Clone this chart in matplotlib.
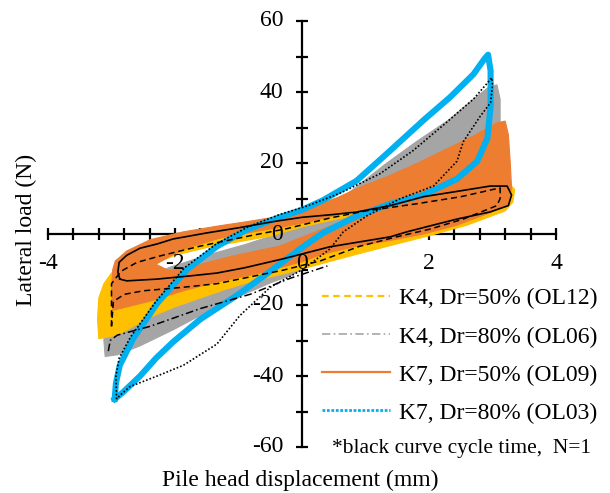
import numpy as np
import matplotlib
matplotlib.use('Agg')
import matplotlib.pyplot as plt
from matplotlib.path import Path
from matplotlib.patches import PathPatch
from matplotlib.lines import Line2D

plt.rcParams['font.family'] = ['Liberation Serif', 'DejaVu Serif']

# colours of the four tests (Excel palette)
c_k4_50 = '#FFC000'
c_k4_80 = '#A5A5A5'
c_k7_50 = '#ED7D31'
c_k7_80 = '#00B0F0'

# K4, Dr=50% (OL12): band covered by all cycles (outer edge + inner hole)
k4_50_outer_x = [-3.2, -3.22, -3.2, -3.12, -3.0, -2.75, -2.4, -2.0, -1.5, -1.0, -0.5, 0.0, 0.55, 1.1, 2.0, 2.8, 3.25,
                 3.35, 3.32, 3.2, 2.6, 2.0, 1.34, 0.8, 0.28, -0.24, -0.77, -1.24, -2.0, -2.4, -2.91]
k4_50_outer_y = [-29.5, -24, -18, -14, -11, -8, -5.2, -3, -1.5, -0.3, 1.4, 4, 6.5, 8.5, 11, 13.2, 14.5,
                 12.5, 9, 6.5, 2.5, -0.5, -3.5, -6, -8.5, -11, -13.2, -15.8, -20.5, -23.5, -28.5]
k4_50_hole_x = [-2.8, -2.4, -2.0, -1.5, -1.0, -0.5, 0.0, 0.55, 1.1, 2.0, 2.8,
                2.8, 2.0, 1.34, 0.8, 0.28, -0.24, -0.77, -1.29, -1.87, -2.5]
k4_50_hole_y = [-13, -9, -6, -3.8, -2.2, -0.6, 2.0, 4.2, 6, 8.5, 10.5,
                5.5, 2.0, -0.8, -3.2, -5.8, -8.3, -10.3, -12, -14, -15.3]

# K4, Dr=80% (OL06)
k4_80_outer_x = [-3.1, -3.12, -3.1, -3.0, -2.6, -2.1, -1.5, -0.9, -0.3, 0.3, 0.8, 1.3, 1.8, 2.3, 2.7, 2.95, 3.07,
                 3.12, 3.12, 3.0, 2.6, 2.0, 1.4, 0.8, 0.2, -0.19, -0.46, -0.98, -1.5, -2.03, -2.55, -2.9]
k4_80_outer_y = [-34.5, -30, -25, -20, -14, -9.5, -6, -3, 0.5, 6, 12.5, 19.5, 26, 32, 38, 41.5, 42,
                 38, 31, 20, 10, 4, -0.5, -4, -8, -11.8, -13.5, -17.5, -22, -27, -31.5, -34]
k4_80_hole_x = [-1.6, -1.0, -0.4, 0.1, 0.6, 1.2, 1.8, 2.5, 2.5, 1.8, 1.2, 0.6, 0.0, -0.6, -1.2]
k4_80_hole_y = [-9.5, -7, -4.8, -2.5, 1, 5, 8.5, 12, 7, 2, -1.5, -4.5, -7.5, -10.5, -12.5]

# K7, Dr=50% (OL09)
k7_50_outer_x = [-2.98, -3.0, -2.98, -2.94, -2.76, -2.39, -1.87, -1.34, -0.82, -0.35, 0.02, 0.55, 0.96, 1.39, 1.8,
                 2.17, 2.7, 3.07, 3.2, 3.25, 3.28, 3.3, 3.25, 2.96, 2.44, 1.91, 1.39, 0.86, 0.3, 0.0, -0.66,
                 -1.34, -1.87, -2.39]
k7_50_outer_y = [-21.5, -15, -10, -7.6, -4.8, -1.6, 0.6, 2.2, 3.6, 5.0, 6.8, 10.2, 13.5, 16.5, 19.8,
                 23, 27.6, 31.3, 31.8, 28, 20, 13, 8.5, 6.0, 2.5, 0.0, -1.8, -3.4, -5.8, -7.8, -11.0,
                 -13.5, -16.0, -18.9]
k7_50_hole_x = [-2.3, -2.0, -1.75, -1.3, -0.8, -0.3, 0.2, 0.6, 0.95, 0.6, 0.2, -0.35, -1.09, -1.76, -2.1]
k7_50_hole_y = [-8.5, -5.5, -3.6, -1.2, 0.5, 2.0, 3.8, 5.6, 7.3, 3.3, 0.5, -3.4, -6.2, -9.3, -10.3]

# K7, Dr=80% (OL03): cycles lie on one narrow loop
k7_80_x = [-2.95, -2.93, -2.87, -2.66, -2.28, -1.81, -1.34, -0.87, -0.39, 0.0, 0.33, 0.86, 1.39, 1.91, 2.33, 2.7,
           2.88, 2.93, 2.97, 2.97, 2.92, 2.76, 2.44, 1.91, 1.39, 0.86, 0.33, 0.0, -0.5, -1.0, -1.6, -2.03, -2.3,
           -2.55, -2.82]
k7_80_y = [-46.5, -42, -37, -29.5, -19.5, -10, -3.5, 1.2, 4.5, 6.8, 9.5, 15, 23.5, 32, 38.5, 45,
           49.5, 50.5, 46, 36, 27, 20.5, 15.5, 11, 8.5, 5.0, 0.3, -3.8, -10.5, -17, -24, -30.4, -35,
           -40, -44.6]

# first cycle (N=1) of every test, drawn in black
n1_k4_50_x = [-3.0, -3.0, -3.0, -2.85, -2.6, -2.24, -1.6, -0.82, -0.24, 0.44, 1.0, 1.8, 2.5, 3.12, 3.12, 3.07,
              2.54, 2.02, 1.49, 0.9, 0.3, -0.3, -0.66, -1.34, -1.87, -2.5, -2.8, -2.97, -3.0]
n1_k4_50_y = [-26, -20, -14, -10.5, -8, -6.2, -3.4, -0.5, 1.5, 4.5, 6.5, 8.5, 10.5, 13, 10, 8,
              4.2, 1.4, -0.8, -3.5, -7.5, -10.2, -11.5, -14, -15, -16, -17, -19, -26]
n1_k4_80_x = [-3.05, -3.02, -2.91, -2.39, -1.6, -0.82, -0.19, 0.4]
n1_k4_80_y = [-33, -30, -28.5, -26, -21, -17, -12.5, -9]
n1_k7_50_x = [-2.87, -2.9, -2.88, -2.76, -2.55, -2.28, -2.03, -1.5, -0.98, -0.45, 0.0, 0.5, 0.86, 1.39, 1.91,
              2.44, 2.96, 3.23, 3.3, 3.25, 2.96, 2.44, 2.02, 1.65, 1.39, 0.44, -0.3, -0.9, -1.34, -1.76, -2.28,
              -2.76, -2.87]
n1_k7_50_y = [-12.7, -10.7, -8, -6, -4, -2.8, -1.4, 0.3, 1.8, 3.5, 4.7, 5.5, 6.2, 8, 10.5,
              12, 13.5, 13.5, 11, 8, 6.2, 4.2, 2.3, 0.6, -0.8, -3.6, -7, -9.5, -11, -11.8, -12.7,
              -13.2, -12.7]
n1_k7_80_x = [-2.92, -2.93, -2.88, -2.7, -2.3, -1.85, -1.35, -0.85, -0.35, 0.1, 0.6, 1.23, 1.75, 2.28, 2.7,
              2.99, 3.0, 2.97, 2.8, 2.54, 2.44, 2.07, 1.54, 1.02, 0.65, 0.44, 0.02, -0.5, -0.98, -1.34,
              -1.87, -2.28, -2.71, -2.87, -2.92]
n1_k7_80_y = [-46.5, -40, -35, -29, -19, -9.5, -2.8, 2, 5.5, 8, 11.5, 17, 23.5, 31.5, 38,
              44, 42, 37, 33, 26, 20.5, 13.5, 9.9, 5.1, 0.6, -4.2, -9.9, -15, -23, -31,
              -37, -40, -43, -45.5, -46.5]

legend_labels = ['K4, Dr=50% (OL12)', 'K4, Dr=80% (OL06)', 'K7, Dr=50% (OL09)', 'K7, Dr=80% (OL03)']
note_text = '*black curve cycle time,  N=1'
x_ticks = [-4, -2, 0, 2, 4]
y_ticks = [-60, -40, -20, 0, 20, 40, 60]


def signed_area(pts):
    x, y = pts[:, 0], pts[:, 1]
    return 0.5 * np.sum(x * np.roll(y, -1) - np.roll(x, -1) * y)


def draw_band(ax, ox, oy, hx, hy, color, z):
    """filled region of a test: outer edge with the empty middle cut out"""
    outer = np.column_stack([ox, oy])
    hole = np.column_stack([hx, hy])
    # hole must wind the other way round
    if signed_area(outer) * signed_area(hole) > 0:
        hole = hole[::-1]
    verts = np.concatenate([outer, outer[:1], hole, hole[:1]])
    codes = ([Path.MOVETO] + [Path.LINETO] * (len(outer) - 1) + [Path.CLOSEPOLY] +
             [Path.MOVETO] + [Path.LINETO] * (len(hole) - 1) + [Path.CLOSEPOLY])
    ax.add_patch(PathPatch(Path(verts, codes), facecolor=color, edgecolor=color, lw=0.8, zorder=z))


fig = plt.figure(figsize=(6.10, 4.93), dpi=100)
ax = fig.add_axes([48 / 610, 46 / 493, 508 / 610, 426 / 493])

draw_band(ax, k4_80_outer_x, k4_80_outer_y, k4_80_hole_x, k4_80_hole_y, c_k4_80, 3)
draw_band(ax, k4_50_outer_x, k4_50_outer_y, k4_50_hole_x, k4_50_hole_y, c_k4_50, 4)
draw_band(ax, k7_50_outer_x, k7_50_outer_y, k7_50_hole_x, k7_50_hole_y, c_k7_50, 5)

# blue loop, all cycles almost on top of each other -> one thick line
bx = k7_80_x + k7_80_x[:1]
by = k7_80_y + k7_80_y[:1]
ax.plot(bx, by, color=c_k7_80, lw=4.4, solid_joinstyle='round', zorder=6)

# N=1 curves
ax.plot(n1_k4_50_x, n1_k4_50_y, color='black', lw=1.1, ls=(0, (4, 2.5)), zorder=7)
ax.plot(n1_k4_80_x, n1_k4_80_y, color='black', lw=1.1, ls=(0, (5, 2, 1, 2)), zorder=7)
ax.plot(n1_k7_50_x, n1_k7_50_y, color='black', lw=1.2, zorder=7)
ax.plot(n1_k7_80_x, n1_k7_80_y, color='black', lw=1.2, ls=(0, (1, 1.2)), zorder=7)

ax.set_xlim(-4, 4)
ax.set_ylim(-60, 60)
for side in ['top', 'right']:
    ax.spines[side].set_visible(False)
for side in ['left', 'bottom']:
    ax.spines[side].set_position(('data', 0))
    ax.spines[side].set_linewidth(1.6)
ax.set_xticks(x_ticks)
ax.set_xticks(np.arange(-4, 4.01, 0.4), minor=True)
ax.set_yticks(y_ticks)
ax.set_yticks(np.arange(-60, 61, 10), minor=True)
ax.tick_params(which='both', direction='inout', length=8.6, width=1.6,
               labelbottom=False, labelleft=False)

# tick labels as texts so they sit above the curves
for v in x_ticks:
    ax.annotate('%d' % v, (v, 0), xytext=(0, -14), textcoords='offset points',
                ha='center', va='top', fontsize=17, zorder=10)
for v in y_ticks:
    ax.annotate('%d' % v, (0, v), xytext=(-13.5, 0), textcoords='offset points',
                ha='right', va='center', fontsize=17, zorder=10)

fig.text(26 / 610, 1 - 230 / 493, 'Lateral load (N)', rotation=90, ha='center', va='center', fontsize=17)
fig.text(300 / 610, 1 - 480 / 493, 'Pile head displacement (mm)', ha='center', va='center', fontsize=17)

handles = [Line2D([], [], color=c_k4_50, lw=1.6, ls=(0, (3, 2))),
           Line2D([], [], color=c_k4_80, lw=1.2, ls=(0, (5, 2, 1, 2))),
           Line2D([], [], color=c_k7_50, lw=1.6),
           Line2D([], [], color=c_k7_80, lw=2.0, ls=(0, (1, 0.6)))]
leg = ax.legend(handles, legend_labels, loc='upper left', bbox_to_anchor=(322 / 610, 1 - 288 / 493),
                bbox_transform=fig.transFigure, frameon=False, fontsize=17, handlelength=2.9,
                handletextpad=0.35, labelspacing=0.7, borderpad=0, borderaxespad=0)
leg.set_zorder(12)
fig.text(461 / 610, 1 - 448 / 493, note_text, ha='center', va='center', fontsize=15.4)

fig.savefig('out.png', dpi=100)
